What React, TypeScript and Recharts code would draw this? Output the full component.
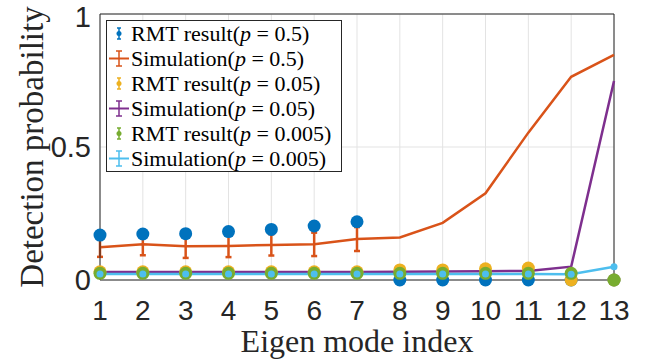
import React from "react"
import {
  CartesianGrid,
  ErrorBar,
  Legend,
  Line,
  LineChart,
  ReferenceLine,
  XAxis,
  YAxis,
} from "recharts"

const modes = [1, 2, 3, 4, 5, 6, 7, 8, 9, 10, 11, 12, 13]

// p = 0.5
const rmt05 = [0.169, 0.173, 0.174, 0.182, 0.19, 0.203, 0.219, 0, 0, 0, 0, 0, 0]
const sim05 = [0.123, 0.134, 0.127, 0.128, 0.132, 0.134, 0.154, 0.16, 0.215, 0.326, 0.554, 0.764, 0.846]
const sim05Err = [0.036, 0.041, 0.044, 0.042, 0.04, 0.044, 0.045, 0, 0, 0, 0, 0, 0]

// p = 0.05
const rmt005 = [0.031, 0.031, 0.031, 0.031, 0.031, 0.031, 0.031, 0.038, 0.038, 0.042, 0.045, 0, 0]
const sim005 = [0.03, 0.03, 0.03, 0.03, 0.03, 0.03, 0.03, 0.031, 0.032, 0.033, 0.034, 0.05, 0.748]

// p = 0.005
const rmt0005 = [0.025, 0.025, 0.025, 0.025, 0.025, 0.025, 0.025, 0.025, 0.025, 0.025, 0.025, 0.025, 0]
const sim0005 = [0.023, 0.023, 0.023, 0.023, 0.023, 0.023, 0.023, 0.023, 0.023, 0.023, 0.023, 0.022, 0.05]

const yTicks = [0, 0.5, 1]

const series = [
  { key: "rmt05", label: "RMT result", p: "0.5", color: "#0072BD", kind: "rmt" },
  { key: "sim05", label: "Simulation", p: "0.5", color: "#D95319", kind: "sim" },
  { key: "rmt005", label: "RMT result", p: "0.05", color: "#EDB120", kind: "rmt" },
  { key: "sim005", label: "Simulation", p: "0.05", color: "#7E2F8E", kind: "sim" },
  { key: "rmt0005", label: "RMT result", p: "0.005", color: "#77AC30", kind: "rmt" },
  { key: "sim0005", label: "Simulation", p: "0.005", color: "#4DBEEE", kind: "sim" },
]

const data = modes.map((m, i) => ({
  mode: m,
  rmt05: rmt05[i],
  sim05: sim05[i],
  sim05Err: sim05Err[i],
  rmt005: rmt005[i],
  sim005: sim005[i],
  rmt0005: rmt0005[i],
  sim0005: sim0005[i],
}))

const axisColor = "#262626"
const serif = "Liberation Serif"
const sans = "Liberation Sans"

function LegendIcon({ color, kind }: { color: string; kind: string }) {
  const sim = kind === "sim"
  const top = sim ? 5 : 7
  const bot = sim ? 20 : 18
  const cap = sim ? 3 : 2
  return (
    <svg width={24} height={25} style={{ display: "block", flex: "none" }}>
      {sim && <line x1={2} y1={12.5} x2={22} y2={12.5} stroke={color} strokeWidth={2} />}
      <line x1={12} y1={top} x2={12} y2={bot} stroke={color} strokeWidth={1.5} />
      <line x1={12 - cap} y1={top} x2={12 + cap} y2={top} stroke={color} strokeWidth={1.5} />
      <line x1={12 - cap} y1={bot} x2={12 + cap} y2={bot} stroke={color} strokeWidth={1.5} />
      {!sim && <circle cx={12} cy={12.5} r={2.5} fill={color} />}
    </svg>
  )
}

function LegendBox() {
  return (
    <div
      style={{
        border: `1px solid ${axisColor}`,
        background: "#fff",
        width: 234,
        height: 150,
        color: "#000",
      }}
    >
      {series.map((s) => (
        <div key={s.key} style={{ display: "flex", alignItems: "center", height: 25 }}>
          <LegendIcon color={s.color} kind={s.kind} />
          <span style={{ whiteSpace: "nowrap", fontFamily: serif, fontSize: 22, lineHeight: "25px" }}>
            {s.label}(<i style={{ fontFamily: serif }}>p</i>&nbsp;=&nbsp;{s.p})
          </span>
        </div>
      ))}
    </div>
  )
}

export default function App() {
  return (
    <div style={{ position: "absolute", left: 0, top: 0, background: "#fff" }}>
      <LineChart width={657} height={362} data={data} margin={{ top: 14, right: 43, bottom: 0, left: 0 }}>
        <CartesianGrid stroke="#e3e3e3" strokeWidth={1} />
        <XAxis
          dataKey="mode"
          type="number"
          domain={[1, 13]}
          ticks={modes}
          interval={0}
          height={82}
          tickLine={false}
          tickSize={0}
          tickMargin={20}
          stroke={axisColor}
          tick={{ fill: axisColor, fontSize: 28, fontFamily: sans }}
          label={{
            content: () => (
              <text x={357} y={352} textAnchor="middle" fontFamily={serif} fontSize={32} fill={axisColor}>
                Eigen mode index
              </text>
            ),
          }}
        />
        <YAxis
          type="number"
          domain={[0, 1]}
          ticks={yTicks}
          width={100}
          tickLine={false}
          tickSize={0}
          tickMargin={9}
          stroke={axisColor}
          tick={{ fill: axisColor, fontSize: 29, fontFamily: sans }}
          label={{
            content: () => (
              <text
                x={43}
                y={147}
                transform="rotate(-90 43 147)"
                textAnchor="middle"
                fontFamily={serif}
                fontSize={33}
                fill={axisColor}
              >
                Detection probability
              </text>
            ),
          }}
        />
        <ReferenceLine y={1} stroke={axisColor} strokeWidth={1} />
        <ReferenceLine x={13} stroke={axisColor} strokeWidth={1} />
        {series.map((s) =>
          s.kind === "rmt" ? (
            <Line
              key={s.key}
              dataKey={s.key}
              stroke="none"
              dot={{ r: 6.5, fill: s.color, stroke: "none" }}
              activeDot={false}
              isAnimationActive={false}
            />
          ) : (
            <Line
              key={s.key}
              dataKey={s.key}
              stroke={s.color}
              strokeWidth={2.5}
              dot={s.key === "sim0005" ? { r: 3.5, fill: s.color, stroke: "none" } : false}
              activeDot={false}
              isAnimationActive={false}
            >
              {s.key === "sim05" && (
                <ErrorBar dataKey="sim05Err" direction="y" width={3} strokeWidth={2.5} stroke={s.color} />
              )}
            </Line>
          )
        )}
        <Legend
          layout="vertical"
          align="center"
          verticalAlign="middle"
          wrapperStyle={{ left: 106, top: 20, width: "auto", height: "auto" }}
          content={() => <LegendBox />}
        />
      </LineChart>
    </div>
  )
}
